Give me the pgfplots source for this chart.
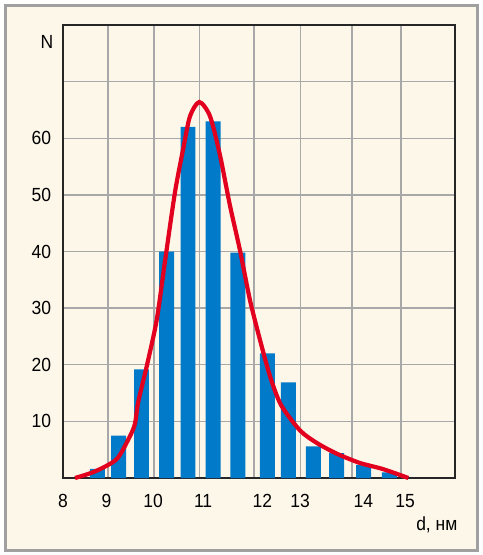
\documentclass[border=0pt]{standalone}
\usepackage{pgfplots}
\pgfplotsset{compat=1.18}
\usepackage{fontspec}
\setmainfont{Liberation Sans}[FakeStretch=0.92]
\definecolor{cream}{RGB}{253,247,233}
\definecolor{barblue}{RGB}{0,122,201}
\definecolor{curvered}{RGB}{226,0,30}
\definecolor{gridgray}{RGB}{168,168,168}
\definecolor{framegray}{RGB}{160,160,160}
\begin{document}
\begin{tikzpicture}
\useasboundingbox (-31.5pt,-38.5pt) rectangle (209.5pt,239pt);
\fill[white] (-31.5pt,-38.5pt) rectangle (209.5pt,239pt);
\draw[framegray, line width=1.5pt, fill=cream] (-28.5pt,-36pt) rectangle (207pt,236pt);
\begin{axis}[
  at={(0,0)}, anchor=south west,
  scale only axis, width=196pt, height=226.5pt,
  xmin=8, xmax=16, ymin=0, ymax=80,
  clip=false,
  xtick={8.92,9.86,10.79,11.9,12.85,13.9,14.9},
  xticklabels={},
  extra x ticks={8,8.89,9.84,10.86,12.07,12.84,14.13,14.98},
  extra x tick labels={8,9,10,11,12,13,14,15},
  extra x tick style={grid=none, tick style={draw=none}},
  ytick={10,20,30,40,50,60,70},
  yticklabels={10,20,30,40,50,60,},
  grid=major,
  major grid style={gridgray, line width=0.65pt},
  major tick length=0pt,
  axis line style={black!85, line width=0.8pt},
  tick label style={font=\fontsize{9.5}{11}\selectfont},
  xticklabel style={yshift=-4.5pt},
  yticklabel style={xshift=-2.4pt},
]
\addplot[ybar, bar width=0.306, fill=barblue, draw=none] coordinates {
  (8.704,1.6) (9.133,7.5) (9.602,19.2) (10.116,40) (10.551,62)
  (11.066,63) (11.571,39.8) (12.173,22) (12.598,16.9) (13.112,5.6)
  (13.582,4.4) (14.133,2.3) (14.663,1.0)
};
\addplot[curvered, line width=2.1pt, smooth, tension=0.45] coordinates {
  (8.245,0) (8.653,1.16) (9.096,3.34) (9.367,7.4) (9.469,9.6) (9.537,13.5)
  (9.708,19.7) (9.912,27.9) (10.082,38.3) (10.286,50.5) (10.455,58.2)
  (10.592,63.9) (10.782,66.4) (11.0,63.9) (11.204,57.0) (11.408,48.1)
  (11.612,40.2) (11.816,31.4) (12.02,24.4) (12.224,18.0) (12.449,12.9)
  (12.837,8.4) (13.178,6.2) (13.586,4.3) (14.061,2.65) (14.537,1.56)
  (15.047,0)
};
\end{axis}
\node[font=\fontsize{9.5}{11}\selectfont] at (-8pt,218.2pt) {N};
\node[font=\fontsize{9.5}{11}\selectfont] at (186.9pt,-23.5pt) {d, нм};
\end{tikzpicture}
\end{document}
